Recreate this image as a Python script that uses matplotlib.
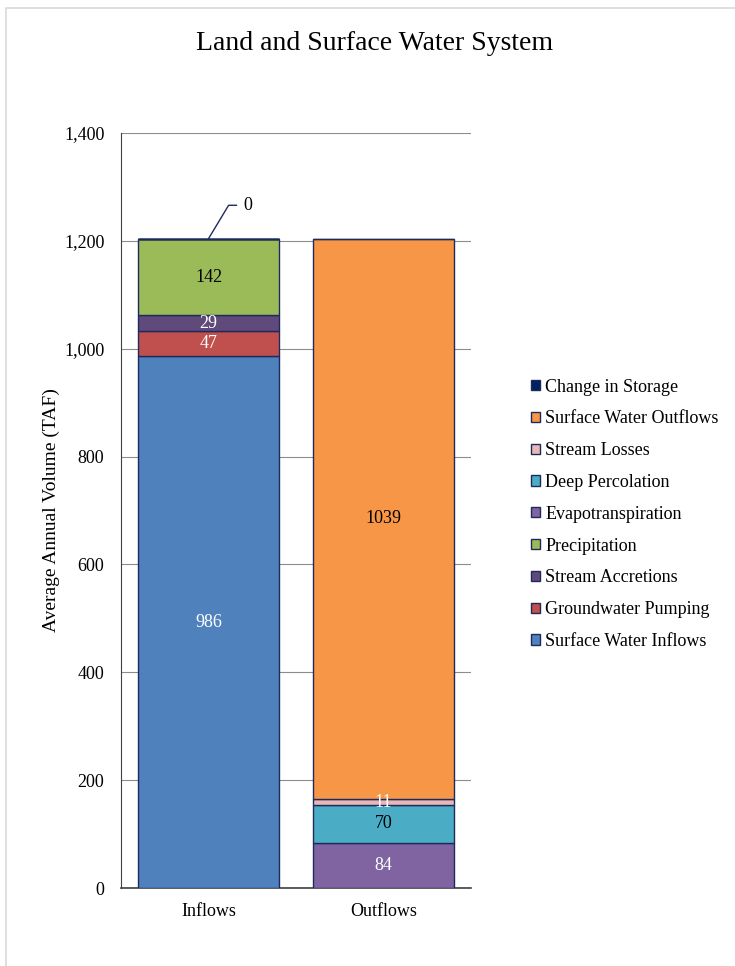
import numpy as np
import matplotlib
matplotlib.use("Agg")
import matplotlib.pyplot as plt
from matplotlib.patches import Patch, Rectangle
from matplotlib.ticker import FuncFormatter

plt.rcParams['font.family'] = ['Liberation Serif', 'DejaVu Serif']

categories = ["Inflows", "Outflows"]

series_names = ["Surface Water Inflows", "Groundwater Pumping", "Stream Accretions",
                "Precipitation", "Evapotranspiration", "Deep Percolation",
                "Stream Losses", "Surface Water Outflows", "Change in Storage"]
surface_inflows = [986, 0]
gw_pumping = [47, 0]
stream_accretions = [29, 0]
precipitation = [142, 0]
evapotranspiration = [0, 84]
deep_percolation = [0, 70]
stream_losses = [0, 11]
surface_outflows = [0, 1039]
change_storage = [0, 0]

colors = ["#4F81BD", "#C0504D", "#604A7B", "#9BBB59", "#8064A2",
          "#4BACC6", "#E6B9B8", "#F79646", "#002060"]
label_colors = ["white", "white", "white", "black", "white",
                "black", "white", "black", "black"]

values = [surface_inflows, gw_pumping, stream_accretions, precipitation,
          evapotranspiration, deep_percolation, stream_losses, surface_outflows,
          change_storage]

edge = "#1F2A5C"

fig = plt.figure(figsize=(7.35, 9.66), dpi=100)
# chart area border (only top/left edge visible in the crop)
fig.patches.append(Rectangle((0.008, -0.02), 1.05, 1.0117, transform=fig.transFigure,
                             fill=False, edgecolor="#D9D9D9", linewidth=1.2))
ax = fig.add_axes([0.1646, 0.0807, 0.4762, 0.7816])

x = np.arange(len(categories))
bottom = np.zeros(len(categories))
for name, vals, c, lc in zip(series_names, values, colors, label_colors):
    vals = np.array(vals, dtype=float)
    ax.bar(x, vals, width=0.806, bottom=bottom, color=c, edgecolor=edge,
           linewidth=1.0, zorder=3)
    for i, v in enumerate(vals):
        if v > 0:
            ax.text(x[i], bottom[i] + v / 2, f"{int(v)}", ha="center", va="center",
                    color=lc, fontsize=13, zorder=4)
    bottom = bottom + vals

# leader label for the zero change in storage
top = bottom[0]
ax.plot([x[0], x[0] + 0.115, x[0] + 0.16], [top, top + 62, top + 62],
        color=edge, linewidth=1.0, zorder=4, clip_on=False)
ax.text(x[0] + 0.2, top + 62, f"{change_storage[0]}", ha="left", va="center",
        fontsize=13, color="black")

ax.set_xlim(-0.5, 1.5)
ax.set_ylim(0, 1400)
ax.set_yticks(np.arange(0, 1401, 200))
ax.yaxis.set_major_formatter(FuncFormatter(lambda v, p: f"{int(v):,}"))
ax.set_xticks(x)
ax.set_xticklabels(categories)
ax.tick_params(axis="both", length=0, labelsize=13)
ax.tick_params(axis="y", pad=12)
ax.tick_params(axis="x", pad=11)
ax.grid(axis="y", color="#8C8C8C", linewidth=0.8, zorder=0)
for s in ["top", "right"]:
    ax.spines[s].set_visible(False)
ax.spines["left"].set_color("#404040")
ax.spines["bottom"].set_color("#404040")
ax.spines["bottom"].set_linewidth(1.2)
ax.set_ylabel("Average Annual Volume (TAF)", fontsize=14, labelpad=3)

fig.text(0.509, 0.955, "Land and Surface Water System", ha="center", va="center",
         fontsize=20)

handles = [Patch(facecolor=c, edgecolor=edge, label=n) for n, c in zip(series_names, colors)]
fig.legend(handles[::-1], series_names[::-1], loc="upper left",
           bbox_to_anchor=(0.700, 0.625), frameon=False, fontsize=13,
           handlelength=0.5, handleheight=0.5, handletextpad=0.3, labelspacing=0.82)

fig.savefig("out.png", dpi=100)
